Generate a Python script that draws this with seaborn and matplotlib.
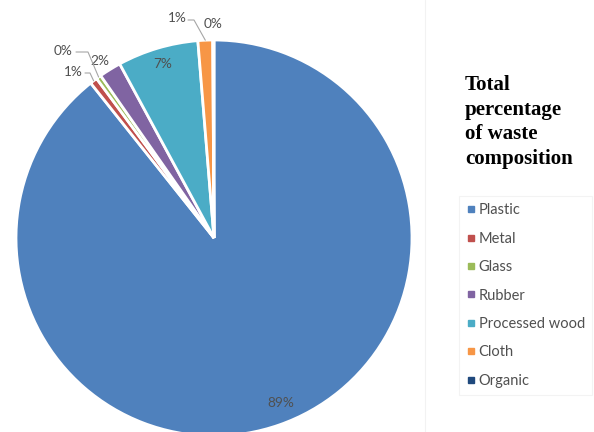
import matplotlib
matplotlib.use("Agg")
import matplotlib.pyplot as plt
from matplotlib.lines import Line2D
import numpy as np
import seaborn as sns

categories = ["Plastic", "Metal", "Glass", "Rubber", "Processed wood", "Cloth", "Organic"]
values = [89.3, 0.6, 0.4, 1.8, 6.6, 1.2, 0.1]
pct_labels = ["89%", "1%", "0%", "2%", "7%", "1%", "0%"]
colors_hex = ["#4F81BD", "#C0504D", "#9BBB59", "#8064A2", "#4BACC6", "#F79646", "#1F497D"]
title_text = "Total\npercentage\nof waste\ncomposition"

sns.set_theme(style="white")
plt.rcParams["font.family"] = ["Lato", "DejaVu Sans"]
palette = sns.color_palette(colors_hex)

W, H = 594, 432
fig = plt.figure(figsize=(W / 100, H / 100), dpi=100)
fig.patch.set_facecolor("white")

# pie axes: center (214,238) px, radius 198 px
cx, cy, R = 214, 238, 198
ax = fig.add_axes([(cx - R) / W, (H - cy - R) / H, 2 * R / W, 2 * R / H])
wedges, _ = ax.pie(values, colors=palette, startangle=90, counterclock=False,
                   wedgeprops=dict(edgecolor="white", linewidth=2))
ax.set_xlim(-1, 1)
ax.set_ylim(-1, 1)
ax.set_aspect("equal")
ax.axis("off")

lbl_color = "#505050"
fs = 9.8

def px(x, y):
    return ((x - cx) / R, (cy - y) / R)

def outer_mid(w, r=1.0):
    a = np.deg2rad((w.theta1 + w.theta2) / 2)
    return r * np.cos(a), r * np.sin(a)

# inside labels
for i, pos in [(0, (281, 403)), (4, (163, 64))]:
    x, y = px(*pos)
    ax.text(x, y, pct_labels[i], ha="center", va="center", fontsize=fs, color=lbl_color)

# outside labels without leader
for i, pos in [(3, (100, 61)), (6, (213, 24))]:
    x, y = px(*pos)
    ax.text(x, y, pct_labels[i], ha="center", va="center", fontsize=fs, color=lbl_color, clip_on=False)

# outside labels with leader lines
leaders = [
    (2, (63, 51), [(76, 52), (88, 52)]),
    (1, (73, 72), [(85, 73), (90, 73)]),
    (5, (177, 18), [(188, 20), (194, 20)]),
]
for i, tpos, pts in leaders:
    x, y = px(*tpos)
    ax.text(x, y, pct_labels[i], ha="center", va="center", fontsize=fs, color=lbl_color, clip_on=False)
    xs = [px(*p)[0] for p in pts]
    ys = [px(*p)[1] for p in pts]
    ex, ey = outer_mid(wedges[i], 1.0)
    xs.append(ex)
    ys.append(ey)
    ax.plot(xs, ys, color="#a6a6a6", lw=0.8, clip_on=False, zorder=3)

# faint vertical divider
fig.add_artist(Line2D([425 / W, 425 / W], [0, 1], transform=fig.transFigure,
                      color="#f2f2f2", lw=0.8))

# title
fig.text(465 / W, (H - 75) / H, title_text, ha="left", va="top",
         fontsize=15, fontweight="bold", family=["Liberation Serif"],
         color="black", linespacing=1.31)

# legend
handles = [Line2D([0], [0], marker="s", linestyle="none", markersize=5,
                  markerfacecolor=c, markeredgecolor=c) for c in colors_hex]
leg = fig.legend(handles, categories, loc="upper left",
                 bbox_to_anchor=(459 / W, (H - 196) / H),
                 frameon=True, fancybox=False, fontsize=10.5,
                 labelcolor=lbl_color, handlelength=0.6, handletextpad=0.25,
                 labelspacing=0.99, borderpad=0.5, borderaxespad=0)
leg.get_frame().set_edgecolor("#f0f0f0")
leg.get_frame().set_linewidth(0.8)

fig.savefig("out.png", dpi=100, facecolor="white")
